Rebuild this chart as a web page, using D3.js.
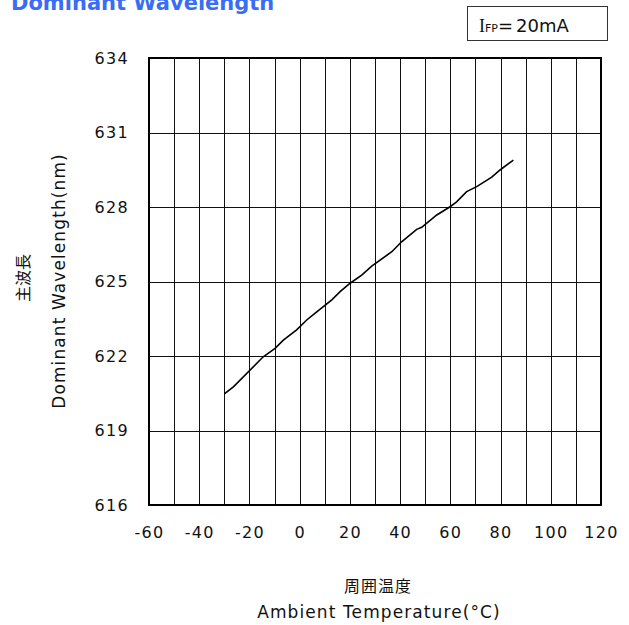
<!DOCTYPE html>
<html>
<head>
<meta charset="utf-8">
<script src="https://cdn.jsdelivr.net/npm/d3@7"></script>
<style>
  body { margin: 0; background: #fff; }
  svg { display: block; }
  .tick text { font-family: "DejaVu Sans", Verdana, sans-serif; font-size: 16px; letter-spacing: 1.3px; fill: #111; }
  .grid .domain { display: none; }
  .grid line { stroke: #111; stroke-width: 1; shape-rendering: crispEdges; }
  .lbl .domain { display: none; }
</style>
</head>
<body>
<div id="chart"></div>
<script>
const width = 629;
const height = 625;
const margin = { top: 58, right: 28, bottom: 120, left: 149 };
const w = width - margin.left - margin.right;
const h = height - margin.top - margin.bottom;

// 読み取った値
const temps = [-30, -26.4, -14.5, -9.8, -6.5, -1.2, 2.8, 6.8, 12.8, 16.1, 20.1, 24.7, 28.7,
  36.7, 40.6, 46.6, 48.6, 54.6, 59.9, 62.5, 66.5, 70.5, 76.5, 79.8, 85.1];
const wavelengths = [620.47, 620.76, 621.97, 622.31, 622.64, 623.05, 623.45, 623.78, 624.26, 624.59,
  624.93, 625.26, 625.62, 626.20, 626.60, 627.10, 627.18, 627.68, 628.01, 628.21, 628.62, 628.82,
  629.20, 629.49, 629.89];
const xTicks = [-60, -40, -20, 0, 20, 40, 60, 80, 100, 120];
const xGrid = d3.range(-50, 120, 10);
const yTicks = [616, 619, 622, 625, 628, 631, 634];

const svg = d3.select('#chart').append('svg')
  .attr('width', width)
  .attr('height', height);

// タイトル（上が切れている）
svg.append('text')
  .attr('x', 11)
  .attr('y', 10)
  .attr('font-family', '"DejaVu Sans", Verdana, sans-serif')
  .attr('font-weight', 'bold')
  .attr('font-size', 21)
  .attr('fill', '#3a6cf4')
  .text('Dominant Wavelength');

const g = svg.append('g').attr('transform', `translate(${margin.left},${margin.top})`);

const x = d3.scaleLinear().domain([-60, 120]).range([0, w]);
const y = d3.scaleLinear().domain([616, 634]).range([h, 0]);

// グリッド
g.append('g')
  .attr('class', 'grid')
  .attr('transform', `translate(0,${h})`)
  .call(d3.axisBottom(x).tickValues(xGrid).tickSize(-h).tickFormat(''));
g.append('g')
  .attr('class', 'grid')
  .call(d3.axisLeft(y).tickValues(yTicks.slice(1, -1)).tickSize(-w).tickFormat(''));

// 目盛りラベル（ハイフンのマイナス）
g.append('g')
  .attr('class', 'lbl')
  .attr('transform', `translate(0,${h})`)
  .call(d3.axisBottom(x).tickValues(xTicks).tickSize(0).tickPadding(22).tickFormat(d => String(d)));
g.append('g')
  .attr('class', 'lbl')
  .call(d3.axisLeft(y).tickValues(yTicks).tickSize(0).tickPadding(20).tickFormat(d => String(d)));

// 枠
g.append('rect')
  .attr('width', w)
  .attr('height', h)
  .attr('fill', 'none')
  .attr('stroke', '#000')
  .attr('stroke-width', 2);

// 曲線
const line = d3.line()
  .x((d, i) => x(temps[i]))
  .y(d => y(d));
g.append('path')
  .datum(wavelengths)
  .attr('d', line)
  .attr('fill', 'none')
  .attr('stroke', '#000')
  .attr('stroke-width', 1.6);

// 軸タイトル
const fam = '"DejaVu Sans", "Noto Sans CJK JP", sans-serif';
svg.append('text')
  .attr('x', 378).attr('y', 592)
  .attr('text-anchor', 'middle')
  .attr('font-family', '"Noto Sans CJK JP", sans-serif')
  .attr('font-size', 16)
  .attr('letter-spacing', 1)
  .attr('fill', '#111')
  .text('周囲温度');
svg.append('text')
  .attr('x', 379).attr('y', 618)
  .attr('text-anchor', 'middle')
  .attr('font-family', fam)
  .attr('font-size', 17)
  .attr('letter-spacing', 1.1)
  .attr('fill', '#111')
  .text('Ambient Temperature(°C)');
svg.append('text')
  .attr('transform', 'translate(29,278) rotate(-90)')
  .attr('text-anchor', 'middle')
  .attr('font-family', '"Noto Sans CJK JP", sans-serif')
  .attr('font-size', 16)
  .attr('fill', '#111')
  .text('主波長');
svg.append('text')
  .attr('transform', 'translate(65,281) rotate(-90)')
  .attr('text-anchor', 'middle')
  .attr('font-family', fam)
  .attr('font-size', 17)
  .attr('letter-spacing', 1.1)
  .attr('fill', '#111')
  .text('Dominant Wavelength(nm)');

// 条件ボックス
svg.append('rect')
  .attr('x', 467.5).attr('y', 6.5)
  .attr('width', 140).attr('height', 34)
  .attr('fill', '#fff')
  .attr('stroke', '#333')
  .attr('stroke-width', 1);
const cond = svg.append('text')
  .attr('x', 479).attr('y', 32)
  .attr('fill', '#111');
cond.append('tspan')
  .attr('font-family', '"Liberation Serif", serif')
  .attr('font-size', 18)
  .text('I');
cond.append('tspan')
  .attr('font-family', fam)
  .attr('font-size', 11)
  .text('FP');
cond.append('tspan')
  .attr('font-family', fam)
  .attr('font-size', 18)
  .text('=');
cond.append('tspan')
  .attr('font-family', fam)
  .attr('font-size', 18)
  .attr('dx', 3)
  .text('20mA');
</script>
</body>
</html>
